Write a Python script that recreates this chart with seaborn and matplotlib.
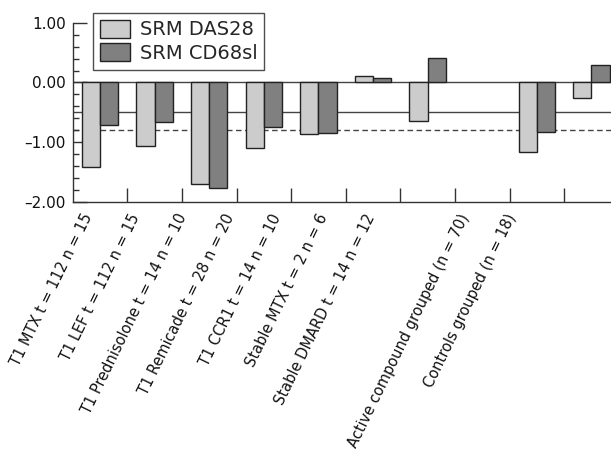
import matplotlib
matplotlib.use("Agg")
import matplotlib.pyplot as plt
import seaborn as sns
import pandas as pd
import numpy as np
from matplotlib.ticker import MultipleLocator, FixedLocator

categories = ["T1 MTX t = 112 n = 15", "T1 LEF t = 112 n = 15",
              "T1 Prednisolone t = 14 n = 10", "T1 Remicade t = 28 n = 20",
              "T1 CCR1 t = 14 n = 10", "Stable MTX t = 2 n = 6",
              "Stable DMARD t = 14 n = 12", "",
              "Active compound grouped (n = 70)", "Controls grouped (n = 18)"]
srm_das28 = [-1.41, -1.06, -1.70, -1.09, -0.86, 0.10, -0.64, np.nan, -1.17, -0.26]
srm_cd68 = [-0.72, -0.66, -1.76, -0.74, -0.84, 0.07, 0.41, np.nan, -0.83, 0.29]
series = ["SRM DAS28", "SRM CD68sl"]
ref_solid = -0.5
ref_dashed = -0.8

slots = [f"c{i}" for i in range(len(categories))]
df = pd.DataFrame({
    "slot": slots * 2,
    "value": srm_das28 + srm_cd68,
    "series": [series[0]] * len(slots) + [series[1]] * len(slots),
})

sns.set_style("white")
plt.rcParams['font.family'] = ['DejaVu Sans']

W, H = 611, 453
ax_left_px, ax_bottom_px, ax_top_px = 72.7, 202, 22.7
slot_px = 54.6

fig = plt.figure(figsize=(W / 100, H / 100), dpi=100)
ax = fig.add_axes([ax_left_px / W, 1 - ax_bottom_px / H, 1 - ax_left_px / W,
                   (ax_bottom_px - ax_top_px) / H])

sns.barplot(data=df, x="slot", y="value", hue="series", order=slots,
            hue_order=series, palette=["#cccccc", "#808080"],
            edgecolor="#222222", linewidth=1.0, width=0.67, ax=ax, legend=True)

ax.axhline(0, color="#444444", lw=1.0, zorder=0.5)
ax.axhline(ref_solid, color="#444444", lw=1.0, zorder=0.5)
ax.axhline(ref_dashed, color="#444444", lw=1.0, ls=(0, (4, 2.5)), zorder=0.5)

ax.set_ylim(-2, 1)
ax.set_xlim(-0.5, -0.5 + (W - ax_left_px) / slot_px)
ax.yaxis.set_major_locator(MultipleLocator(1.0))
ax.yaxis.set_minor_locator(MultipleLocator(0.2))
ax.yaxis.set_major_formatter(matplotlib.ticker.FuncFormatter(lambda v, p: f"{v:.2f}".replace("-", "\u2013")))
ax.tick_params(axis="y", which="major", direction="in", length=10, width=1, color="#333333",
               labelsize=11, pad=5, left=True, labelcolor="#111111")
ax.tick_params(axis="y", which="minor", direction="in", length=4.5, width=1, color="#333333", left=True)

# label anchors in the reference are spaced more tightly than the bar slots
label_pos = [(89 + 47 * i - ax_left_px) / slot_px - 0.5 for i in range(len(categories))]
ax.set_xticks(label_pos)
ax.set_xticklabels(categories, rotation=64, ha="right", va="center", rotation_mode="anchor",
                   fontsize=10.5, color="#111111")
ax.xaxis.set_minor_locator(FixedLocator([i + 0.5 for i in range(len(categories))]))
ax.tick_params(axis="x", which="major", length=0, pad=9)
ax.tick_params(axis="x", which="minor", direction="in", length=10, width=1, color="#333333", bottom=True)

for s in ["top", "right"]:
    ax.spines[s].set_visible(False)
for s in ["left", "bottom"]:
    ax.spines[s].set_color("#333333")
    ax.spines[s].set_linewidth(1.0)

ax.set_xlabel("")
ax.set_ylabel("")

leg = ax.legend(loc="upper left", bbox_to_anchor=(0.038, 1.054), frameon=True, fancybox=False,
                edgecolor="#222222", fontsize=14, handlelength=1.55, handleheight=1.05,
                borderpad=0.35, labelspacing=0.2, handletextpad=0.5, borderaxespad=0)
leg.get_frame().set_linewidth(1.0)

fig.savefig("out.png", dpi=100)
